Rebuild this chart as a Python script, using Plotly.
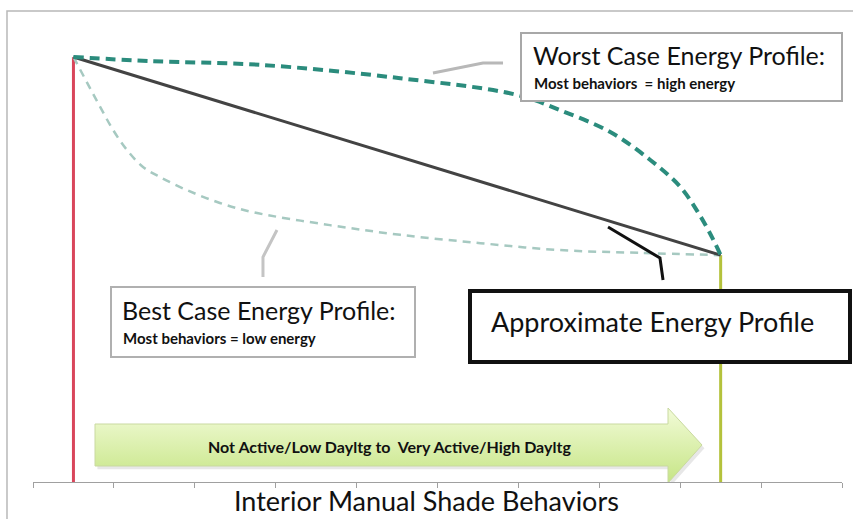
import plotly.graph_objects as go

# behaviour scale (x) and relative energy use (y)
worst_x = [0.5, 1.45, 2.8, 4.54, 5.98, 6.51, 7.13, 7.63, 8.0, 8.24, 8.41, 8.5]
worst_y = [92.0, 91.1, 90.3, 87.4, 83.8, 80.5, 75.8, 69.7, 63.9, 57.8, 52.4, 49.1]

best_x = [0.5, 0.67, 0.83, 0.99, 1.16, 1.36, 1.57, 1.9, 2.31, 2.72, 3.67, 4.54, 5.53, 6.51, 7.5, 8.5]
best_y = [92.0, 86.4, 81.2, 76.2, 71.9, 68.2, 66.0, 63.2, 60.4, 58.4, 55.6, 53.5, 51.7, 50.2, 49.6, 49.1]

approx_x = [0.5, 8.5]
approx_y = [92.0, 49.1]

low_x = 0.5
high_x = 8.5

W, H = 853, 519
FONT = "Lato"


def px(x, y):
    # pixel position -> paper coords (margins are zero)
    return x / W, 1 - y / H


def path(points):
    s = ""
    for i, (x, y) in enumerate(points):
        a, b = px(x, y)
        s += ("M" if i == 0 else "L") + f"{a:.4f},{b:.4f} "
    return s


def rect(x0, y0, x1, y1, color, width, fill="white"):
    a0, b0 = px(x0, y0)
    a1, b1 = px(x1, y1)
    return dict(type="rect", xref="paper", yref="paper", x0=a0, y0=b0, x1=a1, y1=b1,
                line=dict(color=color, width=width), fillcolor=fill, layer="above")


fig = go.Figure()

# shade-behaviour arrow (decoration)
arrow = [(95, 424), (668, 424), (668, 408), (702, 445), (668, 483), (668, 466), (95, 466), (95, 424)]
ax_ = [(p[0] - 33) / 80.9 for p in arrow]
ay_ = [(482 - p[1]) / 4.62 for p in arrow]
fig.add_trace(go.Scatter(x=[v + 0.03 for v in ax_], y=[v - 0.7 for v in ay_], mode="lines",
                         fill="toself", fillcolor="rgba(120,120,120,0.18)",
                         line=dict(width=0), hoverinfo="skip", showlegend=False))
fig.add_trace(go.Scatter(x=ax_, y=ay_, mode="lines", fill="toself",
                         fillgradient=dict(type="vertical",
                                           colorscale=[[0, "#c6e585"], [1, "#f2fbd8"]]),
                         line=dict(color="#c9d9a0", width=1), hoverinfo="skip", showlegend=False))

fig.add_trace(go.Scatter(x=[low_x, low_x], y=[0, approx_y[0]], mode="lines",
                         line=dict(color="#d9465b", width=3), showlegend=False))
fig.add_trace(go.Scatter(x=[high_x, high_x], y=[0, approx_y[-1]], mode="lines",
                         line=dict(color="#b4c23c", width=3), showlegend=False))

fig.add_trace(go.Scatter(x=best_x, y=best_y, mode="lines", line_shape="spline",
                         line=dict(color="#a6c9c1", width=2.5, dash="8px,6px"), showlegend=False))
fig.add_trace(go.Scatter(x=approx_x, y=approx_y, mode="lines",
                         line=dict(color="#434343", width=3), showlegend=False))
fig.add_trace(go.Scatter(x=worst_x, y=worst_y, mode="lines", line_shape="spline",
                         line=dict(color="#2b8c7d", width=4, dash="10px,6px"), showlegend=False))

shapes = [
    # outer frame
    dict(type="path", xref="paper", yref="paper", path=path([(7, 519), (7, 11), (853, 11)]),
         line=dict(color="#b8b8b8", width=1.5)),
    # callout lines
    dict(type="path", xref="paper", yref="paper", path=path([(433, 73), (483, 63), (503, 63)]),
         line=dict(color="#b8b8b8", width=3)),
    dict(type="path", xref="paper", yref="paper", path=path([(277, 230), (263, 257), (263, 277)]),
         line=dict(color="#c4c4c4", width=3)),
    dict(type="path", xref="paper", yref="paper", path=path([(608, 227), (660, 258), (663, 280)]),
         line=dict(color="#111111", width=3)),
    rect(521, 33, 842, 101, "#a8a8a8", 2),
    rect(111, 287, 415, 357, "#b0b0b0", 2),
    rect(470, 291, 850, 362, "#111111", 4),
]


def note(text, x, y, size, bold=False, xanchor="left"):
    a, b = px(x, y)
    return dict(text=f"<b>{text}</b>" if bold else text, xref="paper", yref="paper", x=a, y=b,
                xanchor=xanchor, yanchor="middle", showarrow=False,
                font=dict(family=FONT, size=size, color="#111111"))


annotations = [
    note("Worst Case Energy Profile:", 531, 55, 25),
    note("Most behaviors  = high energy", 532, 83, 15, bold=True),
    note("Best Case Energy Profile:", 120, 310, 25),
    note("Most behaviors = low energy", 121, 338, 15, bold=True),
    note("Approximate Energy Profile", 489, 321, 27),
    note("Not Active/Low Dayltg to  Very Active/High Dayltg", 389, 446, 16, bold=True, xanchor="center"),
    note("Interior Manual Shade Behaviors", 426, 500, 27, xanchor="center"),
]

fig.update_layout(
    width=W, height=H,
    margin=dict(l=0, r=0, t=0, b=0),
    plot_bgcolor="white", paper_bgcolor="white",
    shapes=shapes, annotations=annotations,
    xaxis=dict(domain=[33 / W, 842 / W], range=[0, 10], tickvals=list(range(11)),
               showticklabels=False, ticks="outside", ticklen=5, tickcolor="#a0a0a0",
               showline=True, linecolor="#a0a0a0", linewidth=1, showgrid=False, zeroline=False),
    yaxis=dict(domain=[(H - 482) / H, (H - 20) / H], range=[0, 100], visible=False),
)

fig.write_html("out.html", config={"displayModeBar": False},
               post_script="document.body.style.margin='0';")
